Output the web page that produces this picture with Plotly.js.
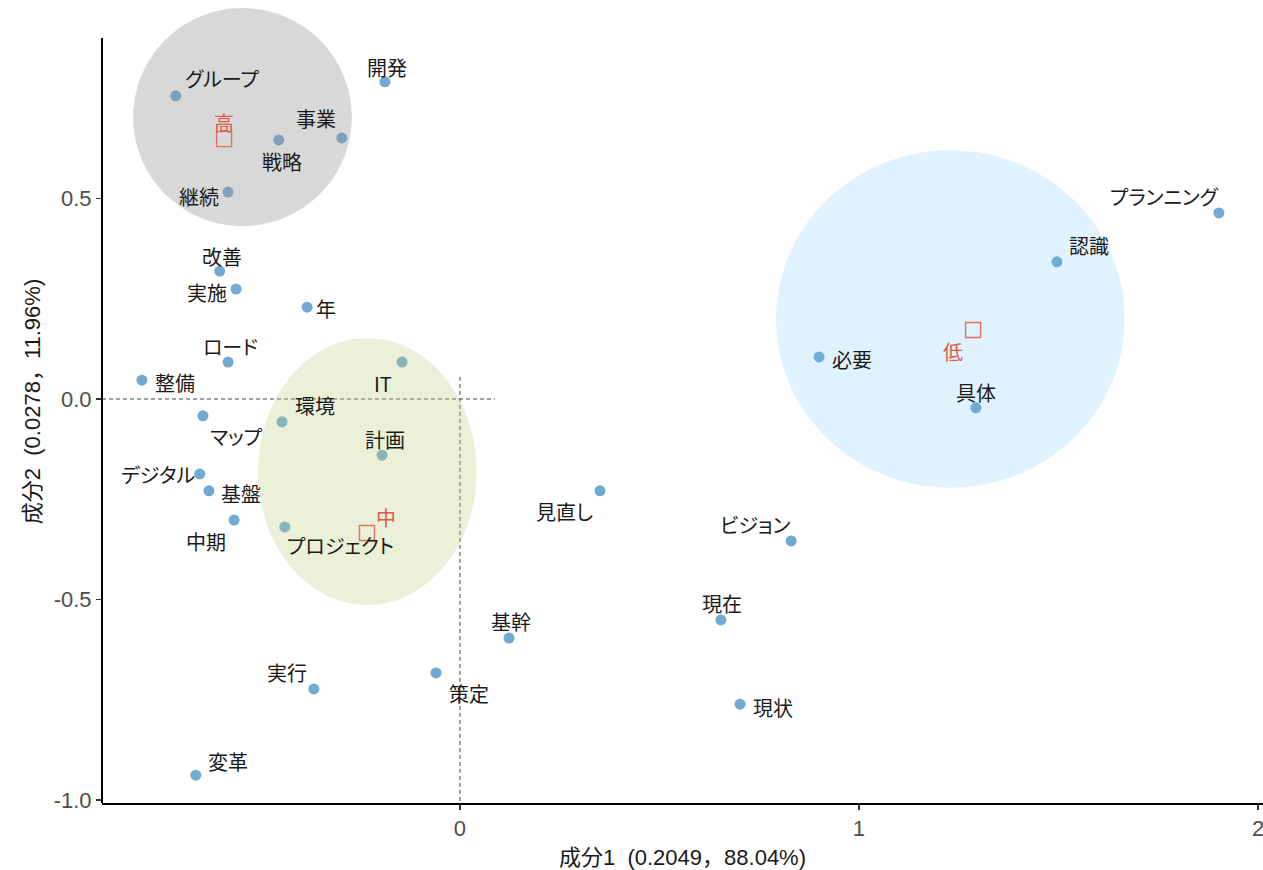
<!DOCTYPE html>
<html>
<head>
<meta charset="utf-8">
<script src="https://cdn.plot.ly/plotly-3.0.1.min.js"></script>
<style>
  html, body { margin: 0; padding: 0; background: #fff; overflow: hidden; }
  #chart { width: 1263px; height: 870px; }
  .annotation-text { font-feature-settings: "palt" 1; }
</style>
</head>
<body>
<div id="chart"></div>
<script>
// ---- data ----
const words = ['グループ','開発','事業','戦略','継続','改善','実施','年','ロード','整備','IT','マップ','環境','計画','デジタル','基盤','中期','プロジェクト','見直し','ビジョン','現在','基幹','策定','実行','現状','変革','必要','具体','認識','プランニング'];
const dim1 = [-0.712,-0.188,-0.296,-0.454,-0.581,-0.602,-0.561,-0.383,-0.581,-0.797,-0.145,-0.644,-0.446,-0.195,-0.652,-0.629,-0.566,-0.439,0.351,0.830,0.654,0.123,-0.060,-0.366,0.702,-0.662,0.900,1.293,1.496,1.902];
const dim2 = [0.756,0.791,0.651,0.646,0.516,0.319,0.274,0.229,0.092,0.047,0.092,-0.042,-0.057,-0.140,-0.187,-0.229,-0.302,-0.319,-0.229,-0.354,-0.551,-0.596,-0.683,-0.723,-0.761,-0.938,0.105,-0.022,0.342,0.464];

const groups = ['高','中','低'];
const groupDim1 = [-0.591,-0.233,1.286];
const groupDim2 = [0.648,-0.334,0.172];

// ellipse (confidence region) centre and radii per group
const ellCx = [-0.545,-0.232,1.229];
const ellCy = [0.703,-0.181,0.1995];
const ellRx = [0.274,0.274,0.437];
const ellRy = [0.272,0.333,0.421];

const xTicks = [0,1,2];
const xTickText = ['0','1','2'];
const yTicks = [-1,-0.5,0,0.5];
const yTickText = ['-1.0','-0.5','0.0','0.5'];

const xTitle = '成分1&nbsp; (0.2049，88.04%)';
const yTitle = '成分2&nbsp; (0.0278，11.96%)';

// ---- label placement (pixels) ----
const labelShift = [
  [46,-17],[2,-14],[-26,-19],[3,22],[-29,4],[2,-15],[-29,3],[19,1],[2,-16],[33,2],
  [-19,21],[33,21],[33,-16],[3,-16],[-42,1],[32,3],[-28,21],[56,19],[-36,21],[-36,-16],
  [1,-16],[2,-16],[33,21],[-27,-16],[33,3],[32,-14],[33,3],[0,-15],[32,-16],[-54,-16]
];
const groupShift = [[0,-17],[19,-15],[-20,21]];
const ellFill = ['rgba(150,150,150,0.37)','rgba(190,210,130,0.30)','rgba(100,190,245,0.20)'];

const yLo = -1.0075, yTopAxis = 0.900, yTopView = 0.995;
const xLo = -0.897, xHi = 2.0125;

const traces = [];
traces.push({
  type:'scatter', mode:'markers', x:dim1, y:dim2, hoverinfo:'text', text:words,
  marker:{size:11, color:'#70a9d2'}, showlegend:false
});
for (let g = 0; g < groups.length; g++) {
  const ex = [], ey = [];
  for (let k = 0; k <= 120; k++) {
    const t = 2*Math.PI*k/120;
    ex.push(ellCx[g] + ellRx[g]*Math.cos(t));
    ey.push(ellCy[g] + ellRy[g]*Math.sin(t));
  }
  traces.push({type:'scatter', mode:'lines', x:ex, y:ey, fill:'toself', fillcolor:ellFill[g],
    line:{width:0, color:'rgba(0,0,0,0)'}, hoverinfo:'skip', showlegend:false});
}
traces.push({
  type:'scatter', mode:'markers', x:groupDim1, y:groupDim2, text:groups, hoverinfo:'text',
  marker:{symbol:'square-open', size:15, color:'#e2725e', line:{width:1.4, color:'#e2725e'}},
  showlegend:false
});

const annotations = [];
for (let i = 0; i < words.length; i++) {
  annotations.push({x:dim1[i], y:dim2[i], xref:'x', yref:'y', text:words[i], showarrow:false,
    xshift:labelShift[i][0], yshift:-labelShift[i][1],
    font:{family:'Noto Sans CJK JP', size:20, color:'#1a1a1a'}});
}
for (let g = 0; g < groups.length; g++) {
  annotations.push({x:groupDim1[g], y:groupDim2[g], xref:'x', yref:'y', text:groups[g], showarrow:false,
    xshift:groupShift[g][0], yshift:-groupShift[g][1],
    font:{family:'Noto Sans CJK JP', size:20, color:'#e25a45'}});
}

const tickFont = {family:'Liberation Sans, Arial', size:22, color:'#4d4d4d'};
const titleFont = {family:'Liberation Sans, Noto Sans CJK JP', size:22, color:'#1a1a1a'};

const layout = {
  width:1263, height:870,
  margin:{l:102, r:0, t:0, b:67},
  paper_bgcolor:'#ffffff', plot_bgcolor:'#ffffff',
  showlegend:false,
  xaxis:{
    range:[xLo, xHi], showgrid:false, zeroline:false,
    showline:true, linecolor:'#000', linewidth:2,
    ticks:'outside', ticklen:5, tickwidth:1.5, tickcolor:'#333',
    tickvals:xTicks, ticktext:xTickText, ticklabeloverflow:'allow',
    tickfont:tickFont,
    title:{text:xTitle, font:titleFont, standoff:12},
    automargin:false
  },
  yaxis:{
    range:[yLo, yTopView], showgrid:false, zeroline:false,
    showline:false,
    ticks:'outside', ticklen:5, tickwidth:1.5, tickcolor:'#333',
    tickvals:yTicks, ticktext:yTickText, ticklabeloverflow:'allow',
    tickfont:tickFont,
    title:{text:yTitle, font:titleFont, standoff:6},
    automargin:false
  },
  shapes:[
    {type:'line', xref:'paper', yref:'y', x0:0, x1:0, y0:yLo-0.004, y1:yTopAxis, layer:'above',
     line:{color:'#000', width:2}},
    {type:'line', xref:'x', yref:'y', x0:xLo, x1:0.088, y0:0, y1:0, layer:'below',
     line:{color:'#444', width:1, dash:'4px,3px'}},
    {type:'line', xref:'x', yref:'y', x0:0, x1:0, y0:0.055, y1:yLo, layer:'below',
     line:{color:'#444', width:1, dash:'4px,3px'}}
  ],
  annotations:annotations
};

Plotly.newPlot('chart', traces, layout, {displayModeBar:false, staticPlot:true});
</script>
</body>
</html>
